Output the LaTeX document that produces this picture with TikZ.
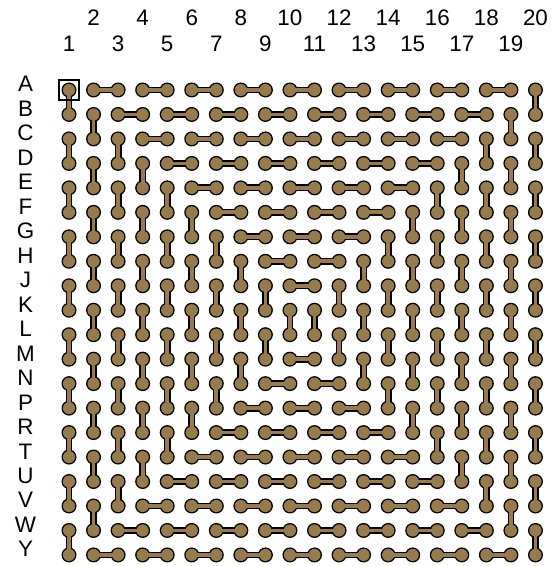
\documentclass[tikz,border=0pt]{standalone}
\usepackage{fontspec}
\setmainfont{Liberation Sans}
\definecolor{padbrown}{RGB}{152,123,76}

\newcommand{\domino}[2]{%
  \draw[rimbar] (#1) -- (#2);
  \fill[black] (#1) circle (3.75pt) (#2) circle (3.75pt);
  \draw[corebar] (#1) -- (#2);
  \fill[padbrown] (#1) circle (3.05pt) (#2) circle (3.05pt);
}

\begin{document}
\begin{tikzpicture}[x=0.5pt,y=-0.5pt,
  rimbar/.style={black,line width=3.4pt},
  corebar/.style={padbrown,line width=1.9pt},
  lbl/.style={anchor=base,inner sep=0pt,font=\fontsize{11.2}{13}\selectfont}]
\useasboundingbox (0,0) rectangle (556,566);
% pads
\foreach \c in {1,...,20}
  \foreach \r in {1,...,20}
    \coordinate (p\c-\r) at ({69+24.55*(\c-1)},{90+24.47*(\r-1)});
% column and row labels
\foreach \c in {1,...,20}{
  \pgfmathsetmacro\ly{mod(\c,2)==1 ? 52 : 25.5}
  \node[lbl] (col\c) at ({69+24.55*(\c-1)},\ly) {\c};
}
\foreach \l [count=\r] in {A,B,C,D,E,F,G,H,J,K,L,M,N,P,R,T,U,V,W,Y}
  \node[lbl] (row\l) at (25.5,{92+24.47*(\r-1)}) {\l};
% dominoes, top half and its mirror
\foreach \r in {1,...,10}{
  \foreach \c in {1,...,20}{
    \pgfmathtruncatemacro\d{min(\c-1,20-\c)}
    \pgfmathtruncatemacro\isv{(\d<\r)&&(mod(\r-1-\d,2)==0)}
    \pgfmathtruncatemacro\ish{(\d>=\r)&&(mod(\c-\r-1,2)==0)}
    \pgfmathtruncatemacro\rr{\r+1}
    \pgfmathtruncatemacro\s{21-\r}
    \pgfmathtruncatemacro\ss{20-\r}
    \pgfmathtruncatemacro\cc{\c+1}
    \ifnum\isv=1
      \domino{p\c-\r}{p\c-\rr}
      \ifnum\r<10 \domino{p\c-\s}{p\c-\ss}\fi
    \fi
    \ifnum\ish=1
      \domino{p\c-\r}{p\cc-\r}
      \domino{p\c-\s}{p\cc-\s}
    \fi
  }
}
\node[draw,line width=0.6pt,minimum size=10pt,inner sep=0pt] (mark) at (p1-1) {};
\end{tikzpicture}
\end{document}
